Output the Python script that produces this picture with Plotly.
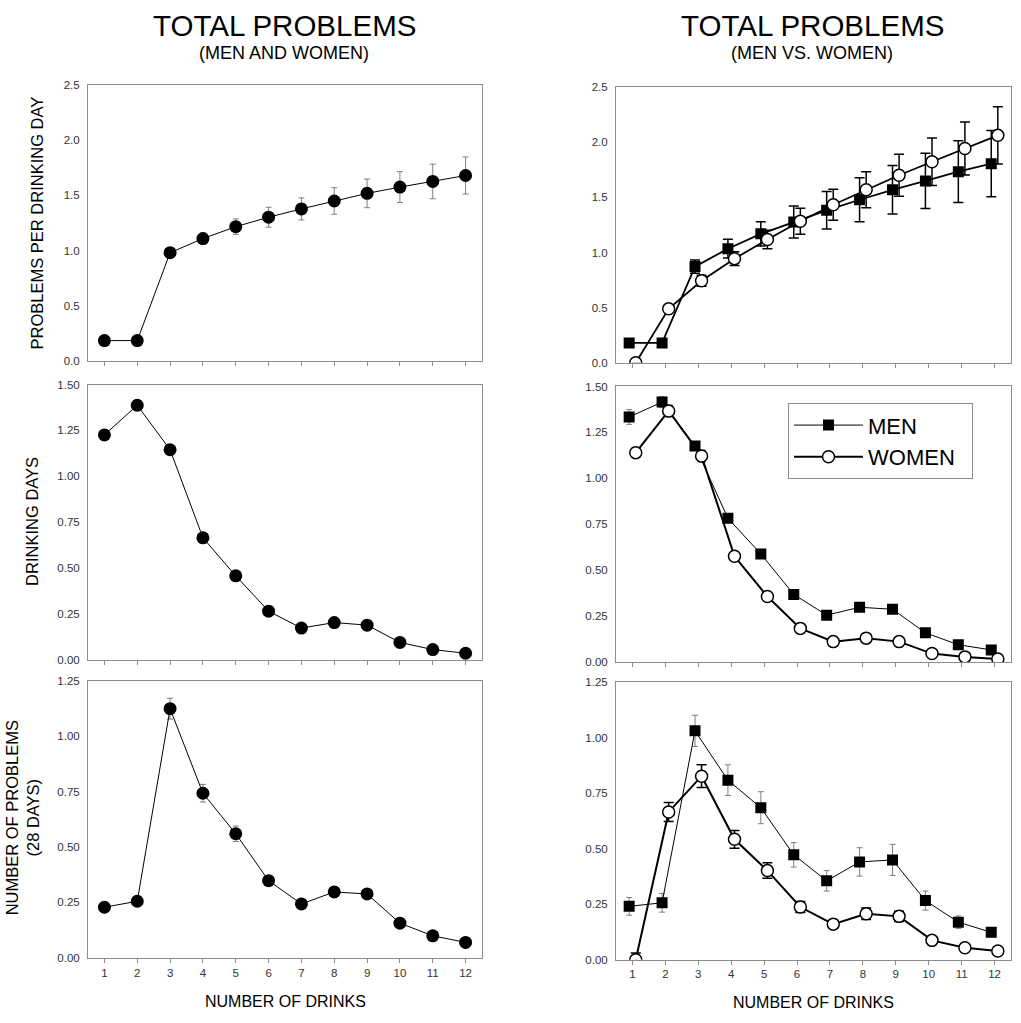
import plotly.graph_objects as go

drinks = list(range(1, 13))
x_ticks = [str(d) for d in drinks]

# Panel 1: problems per drinking day (men and women)
ppd_all = [0.183, 0.183, 0.98, 1.108, 1.216, 1.302, 1.377, 1.449, 1.518, 1.575, 1.626, 1.680]
ppd_all_err = [0.0, 0.0, 0.03, 0.05, 0.07, 0.09, 0.10, 0.12, 0.13, 0.14, 0.157, 0.168]

# Panel 2: problems per drinking day (men vs women)
ppd_men = [0.18, 0.18, 0.872, 1.034, 1.169, 1.277, 1.382, 1.478, 1.568, 1.649, 1.733, 1.805]
ppd_men_err = [0.03, 0.03, 0.06, 0.085, 0.11, 0.145, 0.17, 0.20, 0.22, 0.25, 0.28, 0.30]
ppd_women = [0.0, 0.489, 0.743, 0.944, 1.118, 1.283, 1.433, 1.568, 1.70, 1.823, 1.942, 2.062]
ppd_women_err = [0.0, 0.02, 0.05, 0.063, 0.084, 0.117, 0.14, 0.163, 0.19, 0.216, 0.24, 0.26]

# Panel 3: drinking days (men and women)
dd_all = [1.226, 1.387, 1.145, 0.666, 0.459, 0.267, 0.175, 0.205, 0.191, 0.097, 0.058, 0.038]

# Panel 4: drinking days (men vs women)
dd_men = [1.334, 1.415, 1.176, 0.783, 0.589, 0.369, 0.256, 0.299, 0.288, 0.160, 0.095, 0.067]
dd_men_err = [0.04, 0.03, 0.02, 0.015, 0.01, 0.01, 0.01, 0.01, 0.01, 0.01, 0.005, 0.005]
dd_women = [1.14, 1.367, 1.122, 0.576, 0.357, 0.184, 0.112, 0.131, 0.112, 0.047, 0.029, 0.018]
dd_women_err = [0.025, 0.03, 0.03, 0.02, 0.015, 0.01, 0.01, 0.01, 0.01, 0.005, 0.005, 0.005]

# Panel 5: number of problems, 28 days (men and women)
np_all = [0.228, 0.255, 1.125, 0.743, 0.560, 0.348, 0.243, 0.297, 0.288, 0.156, 0.099, 0.069]
np_all_err = [0.01, 0.01, 0.047, 0.04, 0.035, 0.015, 0.01, 0.02, 0.02, 0.01, 0.01, 0.005]

# Panel 6: number of problems, 28 days (men vs women)
np_men = [0.24, 0.256, 1.03, 0.808, 0.684, 0.472, 0.355, 0.44, 0.449, 0.266, 0.169, 0.123]
np_men_err = [0.04, 0.042, 0.07, 0.069, 0.072, 0.055, 0.046, 0.064, 0.07, 0.043, 0.028, 0.01]
np_women = [0.0, 0.665, 0.826, 0.542, 0.401, 0.237, 0.16, 0.207, 0.195, 0.087, 0.054, 0.039]
np_women_err = [0.03, 0.043, 0.051, 0.04, 0.035, 0.025, 0.01, 0.026, 0.023, 0.01, 0.005, 0.005]

y_ticks_top = [0.0, 0.5, 1.0, 1.5, 2.0, 2.5]
y_ticks_mid = [0.0, 0.25, 0.5, 0.75, 1.0, 1.25, 1.5]
y_ticks_bot = [0.0, 0.25, 0.5, 0.75, 1.0, 1.25]

FONT = "Liberation Sans, Arial, sans-serif"
W, H = 1021, 1023
AX_COL = "#8c8c8c"
GRAY_ERR = "#7f7f7f"
off = 0.1
x_men = [d - off for d in drinks]
x_women = [d + off for d in drinks]

fig = go.Figure()


def err(vals, color, thick, width):
    return dict(type="data", array=vals, visible=True, color=color, thickness=thick, width=width)


# --- Left column (all) ---
circle_all = dict(symbol="circle", size=13, color="black")
fig.add_trace(go.Scatter(x=drinks, y=ppd_all, mode="lines+markers", marker=circle_all,
                         line=dict(color="black", width=1), error_y=err(ppd_all_err, GRAY_ERR, 1, 3),
                         xaxis="x", yaxis="y", showlegend=False))
fig.add_trace(go.Scatter(x=drinks, y=dd_all, mode="lines+markers", marker=circle_all,
                         line=dict(color="black", width=1),
                         xaxis="x3", yaxis="y3", showlegend=False))
fig.add_trace(go.Scatter(x=drinks, y=np_all, mode="lines+markers", marker=circle_all,
                         line=dict(color="black", width=1), error_y=err(np_all_err, GRAY_ERR, 1, 3),
                         xaxis="x5", yaxis="y5", showlegend=False))

# --- Right column (men vs women) ---
sq = dict(symbol="square", size=11, color="black")
oc = dict(symbol="circle", size=12, color="white", line=dict(color="black", width=1.5))

# top right
fig.add_trace(go.Scatter(x=x_men, y=ppd_men, mode="lines+markers", marker=sq,
                         line=dict(color="black", width=1.8), error_y=err(ppd_men_err, "black", 1.5, 5),
                         xaxis="x2", yaxis="y2", showlegend=False))
fig.add_trace(go.Scatter(x=x_women, y=ppd_women, mode="lines+markers", marker=oc,
                         line=dict(color="black", width=1.8), error_y=err(ppd_women_err, "black", 1.5, 5),
                         xaxis="x2", yaxis="y2", showlegend=False))
# middle right
fig.add_trace(go.Scatter(x=x_men, y=dd_men, mode="lines+markers", marker=sq, name="MEN",
                         line=dict(color="black", width=1), error_y=err(dd_men_err, GRAY_ERR, 1, 3),
                         xaxis="x4", yaxis="y4", showlegend=True))
fig.add_trace(go.Scatter(x=x_women, y=dd_women, mode="lines+markers", marker=oc, name="WOMEN\u00a0\u00a0",
                         line=dict(color="black", width=2), error_y=err(dd_women_err, "black", 1.5, 4),
                         xaxis="x4", yaxis="y4", showlegend=True))
# bottom right
fig.add_trace(go.Scatter(x=x_men, y=np_men, mode="lines+markers", marker=sq,
                         line=dict(color="black", width=1), error_y=err(np_men_err, GRAY_ERR, 1, 3),
                         xaxis="x6", yaxis="y6", showlegend=False))
fig.add_trace(go.Scatter(x=x_women, y=np_women, mode="lines+markers", marker=oc,
                         line=dict(color="black", width=2), error_y=err(np_women_err, "black", 1.5, 5),
                         xaxis="x6", yaxis="y6", showlegend=False))


def px_x(a, b):
    return [a / W, b / W]


def px_y(top, bottom):
    return [1 - bottom / H, 1 - top / H]


left_x = px_x(88, 482)
right_x = px_x(616, 1011)
rows_left = [px_y(80, 359), px_y(383, 662), px_y(683, 963)]
rows_right = [px_y(82, 361), px_y(385, 664), px_y(684, 965)]

yranges = [[0, 2.5], [0, 1.5], [0, 1.25]]
yticks = [y_ticks_top, y_ticks_mid, y_ticks_bot]
yfmt = [".1f", ".2f", ".2f"]

layout_axes = {}
for i in range(6):
    row = i // 2
    col = i % 2
    n = i + 1
    xname = "xaxis" if n == 1 else f"xaxis{n}"
    yname = "yaxis" if n == 1 else f"yaxis{n}"
    yref = "y" if n == 1 else f"y{n}"
    xref = "x" if n == 1 else f"x{n}"
    layout_axes[xname] = dict(
        domain=left_x if col == 0 else right_x,
        anchor=yref, range=[0.5, 12.5], tickmode="array", tickvals=drinks, ticktext=x_ticks,
        showticklabels=(row == 2), ticks="outside", ticklen=4, tickcolor=AX_COL, tickwidth=1,
        showline=True, linecolor=AX_COL, linewidth=1, mirror=True, showgrid=False, zeroline=False,
        tickfont=dict(family=FONT, size=11.5, color="#333333"),
    )
    layout_axes[yname] = dict(
        domain=rows_left[row] if col == 0 else rows_right[row],
        anchor=xref, range=yranges[row], tickmode="array", tickvals=yticks[row],
        tickformat=yfmt[row], ticks="outside", ticklen=5, tickcolor="rgba(0,0,0,0)",
        showline=True, linecolor=AX_COL, linewidth=1, mirror=True, showgrid=False, zeroline=False,
        tickfont=dict(family=FONT, size=11.5, color="#333333"),
    )

annotations = [
    dict(text="TOTAL PROBLEMS", x=284 / W, y=1 - 20 / H, font=dict(size=29.5)),
    dict(text="(MEN AND WOMEN)", x=284 / W, y=1 - 48 / H, font=dict(size=18)),
    dict(text="TOTAL PROBLEMS", x=812 / W, y=1 - 20 / H, font=dict(size=29.5)),
    dict(text="(MEN VS. WOMEN)", x=812 / W, y=1 - 48 / H, font=dict(size=18)),
    dict(text="PROBLEMS PER DRINKING DAY", x=37 / W, y=1 - 220 / H, font=dict(size=16.5), textangle=-90),
    dict(text="DRINKING DAYS", x=32 / W, y=1 - 522 / H, font=dict(size=16.5), textangle=-90),
    dict(text="NUMBER OF PROBLEMS<br>(28 DAYS)", x=22 / W, y=1 - 822 / H, font=dict(size=16.5), textangle=-90),
    dict(text="NUMBER OF DRINKS", x=285 / W, y=1 - 1007 / H, font=dict(size=16)),
    dict(text="NUMBER OF DRINKS", x=813 / W, y=1 - 1008 / H, font=dict(size=16)),
]
for a in annotations:
    a.update(xref="paper", yref="paper", showarrow=False, xanchor="center", yanchor="middle")
    a["font"].update(family=FONT, color="black")

fig.update_layout(
    width=W, height=H, margin=dict(l=0, r=0, t=0, b=0),
    paper_bgcolor="white", plot_bgcolor="white",
    annotations=annotations,
    legend=dict(x=788 / W, y=1 - 402 / H, xanchor="left", yanchor="top",
                bordercolor=AX_COL, borderwidth=1, bgcolor="white",
                font=dict(family=FONT, size=22, color="black"), itemwidth=69,
                tracegroupgap=0),
    **layout_axes,
)

fig.write_html("out.html", config={"displayModeBar": False},
               post_script="document.body.style.margin='0';")
